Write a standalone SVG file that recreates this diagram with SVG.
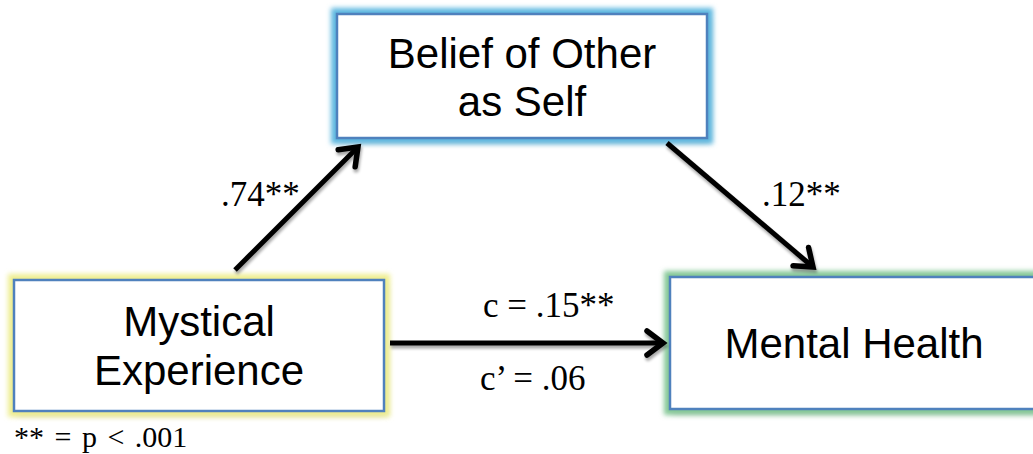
<svg xmlns="http://www.w3.org/2000/svg" width="1033" height="454" viewBox="0 0 1033 454">
<defs>
<style>
.box{fill:#ffffff;stroke:#4F81BD;stroke-width:2.5}
.lbl{font-family:"Liberation Sans",Arial,sans-serif;font-size:42px;fill:#000;text-anchor:middle}
.num{font-family:"Liberation Serif","Times New Roman",serif;font-size:35px;fill:#000}
.note{font-family:"Liberation Serif","Times New Roman",serif;font-size:30px;fill:#000;word-spacing:3px}
.edge{stroke:#000;stroke-width:5;fill:none;marker-end:url(#arr);filter:url(#lsh)}
</style>
<filter id="glow" x="-10%" y="-20%" width="120%" height="140%">
<feGaussianBlur stdDeviation="2.5"/>
</filter>
<filter id="sh" x="-10%" y="-20%" width="120%" height="140%">
<feGaussianBlur stdDeviation="3"/>
</filter>
<filter id="lsh" filterUnits="userSpaceOnUse" x="0" y="0" width="1033" height="454">
<feGaussianBlur in="SourceAlpha" stdDeviation="1.5" result="b"/>
<feOffset in="b" dx="1" dy="3" result="o"/>
<feComponentTransfer in="o" result="oo"><feFuncA type="linear" slope="0.35"/></feComponentTransfer>
<feMerge><feMergeNode in="oo"/><feMergeNode in="SourceGraphic"/></feMerge>
</filter>
<marker id="arr" markerUnits="userSpaceOnUse" markerWidth="40" markerHeight="40" refX="20" refY="20" orient="auto" viewBox="0 0 40 40">
<path d="M4 8 L20 20 L4 32" fill="none" stroke="#000" stroke-width="5.5" stroke-linecap="round" stroke-linejoin="miter"/>
</marker>
</defs>
<rect width="1033" height="454" fill="#fff"/>
<g id="node-belief">
<rect x="339" y="18" width="370" height="124" fill="#888" opacity="0.5" filter="url(#sh)"/>
<rect x="337" y="14" width="370" height="124" fill="none" stroke="#5DB8E0" stroke-width="12" filter="url(#glow)"/>
<rect x="337" y="14" width="370" height="124" class="box" stroke-width="3"/>
<text class="lbl" x="522" y="68">Belief of Other</text>
<text class="lbl" x="522" y="116">as Self</text>
</g>
<g id="node-mystical">
<rect x="16" y="284" width="370" height="131" fill="#888" opacity="0.5" filter="url(#sh)"/>
<rect x="14" y="280" width="370" height="131" fill="none" stroke="#EEEE90" stroke-width="12" filter="url(#glow)"/>
<rect x="14" y="280" width="370" height="131" class="box"/>
<text class="lbl" x="199" y="336">Mystical</text>
<text class="lbl" x="199" y="385">Experience</text>
</g>
<g id="node-mental">
<rect x="672" y="281" width="380" height="132" fill="#888" opacity="0.5" filter="url(#sh)"/>
<rect x="670" y="277" width="380" height="132" fill="none" stroke="#84C896" stroke-width="12" filter="url(#glow)"/>
<rect x="670" y="277" width="380" height="132" class="box"/>
<text class="lbl" x="854" y="358">Mental Health</text>
</g>
<g id="connectors">
<line class="edge" x1="235" y1="270" x2="358" y2="147"/>
<line class="edge" x1="667" y1="143" x2="813" y2="267"/>
<line class="edge" x1="390" y1="343" x2="663" y2="343"/>
</g>
<g id="labels">
<text class="num" x="221" y="206">.74**</text>
<text class="num" x="762" y="206">.12**</text>
<text class="num" x="483" y="317">c = .15**</text>
<text class="num" x="480" y="390">c’ = .06</text>
<text class="note" x="14" y="447">** = p &lt; .001</text>
</g>
</svg>
